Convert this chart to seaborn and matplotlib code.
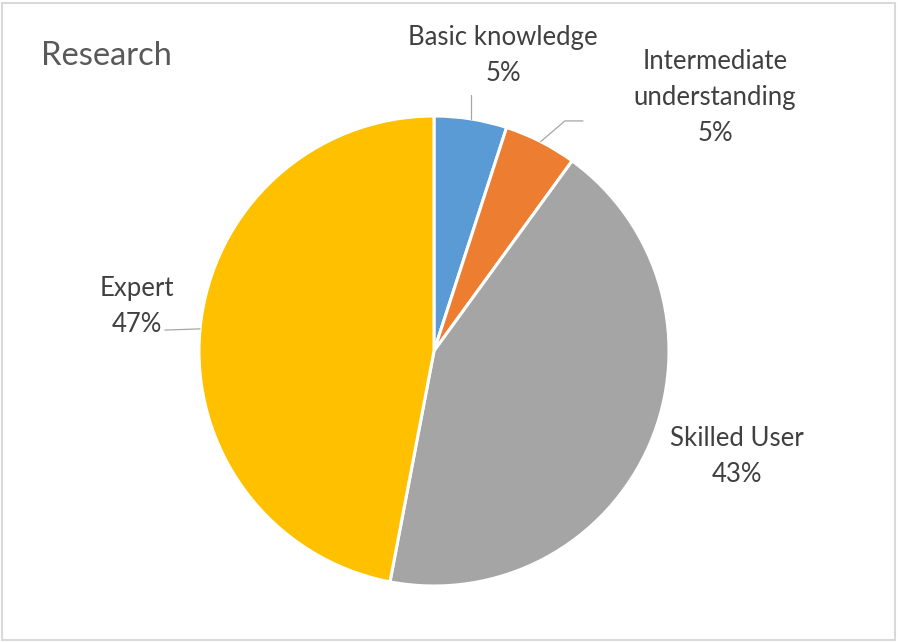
import numpy as np
import matplotlib
matplotlib.use("Agg")
import matplotlib.pyplot as plt
import seaborn as sns

# Self-rated proficiency in research (percent of respondents)
categories = ["Basic knowledge", "Intermediate\nunderstanding", "Skilled User", "Expert"]
shares = [5, 5, 43, 47]
slice_colors = ["#5B9BD5", "#ED7D31", "#A5A5A5", "#FFC000"]

sns.set_theme(style="white")
plt.rcParams["font.family"] = ["Lato", "DejaVu Sans"]

W, H = 903, 642
fig = plt.figure(figsize=(W / 100, H / 100), dpi=100)
fig.patch.set_facecolor("white")

# pie centred at (434, 351) px with radius 235 px
cx, cy, r = 434, 351, 235
ax = fig.add_axes([(cx - r) / W, (H - cy - r) / H, 2 * r / W, 2 * r / H])
wedges, _ = ax.pie(shares, colors=slice_colors, startangle=90, counterclock=False,
                   wedgeprops=dict(edgecolor="white", linewidth=2.2))
ax.set_xlim(-1, 1)
ax.set_ylim(-1, 1)
ax.set_aspect("equal")
ax.axis("off")

# label placement (axes data units) and leader-line elbows for each slice
label_pos = [(0.294, 1.258), (1.196, 1.077), (1.289, -0.448), (-1.264, 0.19)]
text_col = "#404040"
line_col = "#A6A6A6"

total = float(sum(shares))
cum = 0.0
for i, (name, val) in enumerate(zip(categories, shares)):
    mid = 90 - 360 * (cum + val / 2) / total
    cum += val
    ex, ey = np.cos(np.radians(mid)), np.sin(np.radians(mid))
    tx, ty = label_pos[i]
    ax.text(tx, ty, f"{name}\n{val / total * 100:.0f}%", ha="center", va="center",
            fontsize=18.5, color=text_col, linespacing=1.55, clip_on=False)
    if i == 0:
        ax.plot([ex, ex], [ey, 1.089], color=line_col, lw=0.9, clip_on=False)
    elif i == 1:
        ax.plot([ex, 0.557, 0.634], [ey, 0.979, 0.979], color=line_col, lw=0.9, clip_on=False)
    elif i == 3:
        ax.plot([ex, -1.145], [ey, 0.089], color=line_col, lw=0.9, clip_on=False)

# chart title
fig.text(41 / W, 1 - 56 / H, "Research", ha="left", va="center", fontsize=23.5, color="#595959")

# light chart-area frame
frame = plt.Rectangle((2 / W, 2.5 / H), (895 - 2) / W, (H - 5) / H, transform=fig.transFigure,
                      fill=False, edgecolor="#D9D9D9", linewidth=1.5)
fig.patches.append(frame)

fig.savefig("out.png", dpi=100, facecolor="white")
